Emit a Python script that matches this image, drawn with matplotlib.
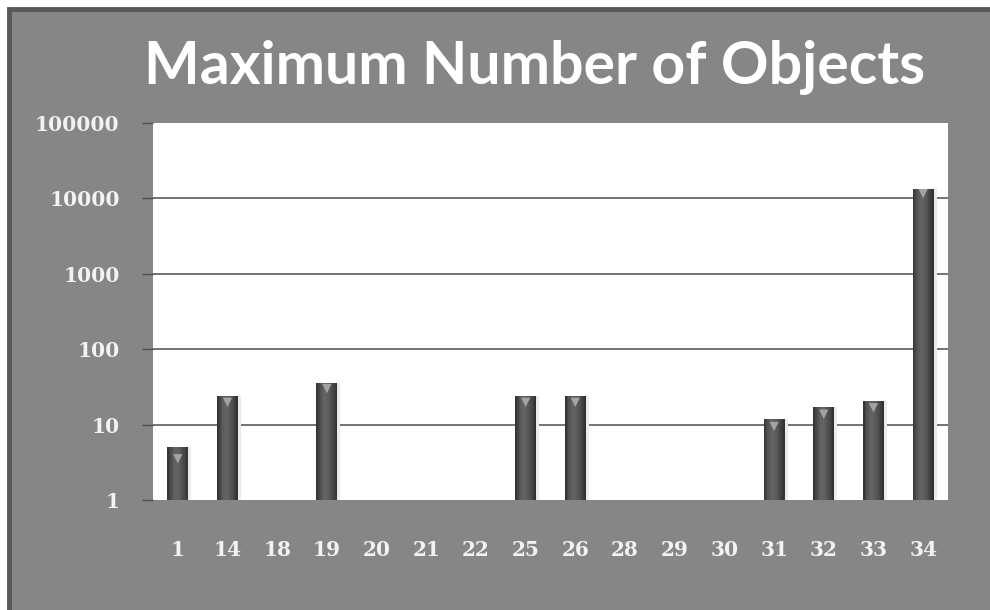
import numpy as np
import matplotlib.pyplot as plt
from matplotlib.patches import Rectangle

#### data
categories = ["1", "14", "18", "19", "20", "21", "22", "25", "26",
              "28", "29", "30", "31", "32", "33", "34"]
max_objects = [4.1, 23, np.nan, 35, np.nan, np.nan, np.nan, 23, 23,
               np.nan, np.nan, np.nan, 11, 16, 19.5, 13500]
y_ticks = [1, 10, 100, 1000, 10000, 100000]

bg = "#868686"
label_col = "#f2f2f2"

fig = plt.figure(figsize=(9.9, 6.1), dpi=100, facecolor="white")

## gray chart frame with darker border (runs off the right/bottom edge)
frame = Rectangle((9 / 990, -0.05), 1.05, 1 - 9 / 610 + 0.05,
                  transform=fig.transFigure, facecolor=bg,
                  edgecolor="#575757", linewidth=3.5, zorder=-10)
fig.patches.append(frame)

ax = fig.add_axes([153 / 990, 1 - 500 / 610, 795 / 990, 377 / 610])
ax.set_facecolor("white")
ax.set_yscale("log")
ax.set_ylim(1, 100000)

x = np.arange(len(categories))
bar_w = 0.42

## faint shadow to the right of the bars
ax.bar(x + 0.06, max_objects, width=bar_w, bottom=1, color="#ebebeb",
       linewidth=0, zorder=2.5)

## bars as thin vertical strips for a rough cylinder shading
shades = ["#353535", "#454545", "#525252", "#5c5c5c", "#626262", "#626262",
          "#5e5e5e", "#585858", "#505050", "#474747", "#3d3d3d", "#323232"]
n_strips = len(shades)
strip_w = bar_w / n_strips
for i, col in enumerate(shades):
    offs = -bar_w / 2 + strip_w * (i + 0.5)
    ax.bar(x + offs, max_objects, width=strip_w * 1.02, bottom=1, color=col,
           linewidth=0, zorder=3)

## light cap marker on top of each bar
tops = np.array(max_objects) * 10 ** (-5 / 75.4)
ax.scatter(x, tops, marker="v", s=45, color="#a3a3a3", edgecolors="none",
           zorder=4)

## gridlines
for yt in y_ticks[1:-1]:
    ax.axhline(yt, color="#4d4d4d", linewidth=1.1, zorder=2)

for s in ax.spines.values():
    s.set_visible(False)

ax.set_xlim(-0.5, len(categories) - 0.5)
ax.set_xticks(x)
ax.set_xticklabels(categories)
ax.set_yticks(y_ticks)
ax.set_yticklabels([str(v) for v in y_ticks])
ax.minorticks_off()

ax.tick_params(axis="x", length=0, pad=29, labelsize=14.5,
               labelcolor=label_col)
ax.tick_params(axis="y", length=8, width=1, color="#4d4d4d", pad=16,
               labelsize=14.5, labelcolor=label_col)
for lab in ax.get_xticklabels() + ax.get_yticklabels():
    lab.set_fontfamily("DejaVu Serif")
    lab.set_fontweight("bold")

fig.text(0.54, 0.889, "Maximum Number of Objects", ha="center", va="center",
         fontsize=42.5, fontweight="bold", color="white", family="Lato")

plt.savefig("out.png", dpi=100, facecolor=fig.get_facecolor())
